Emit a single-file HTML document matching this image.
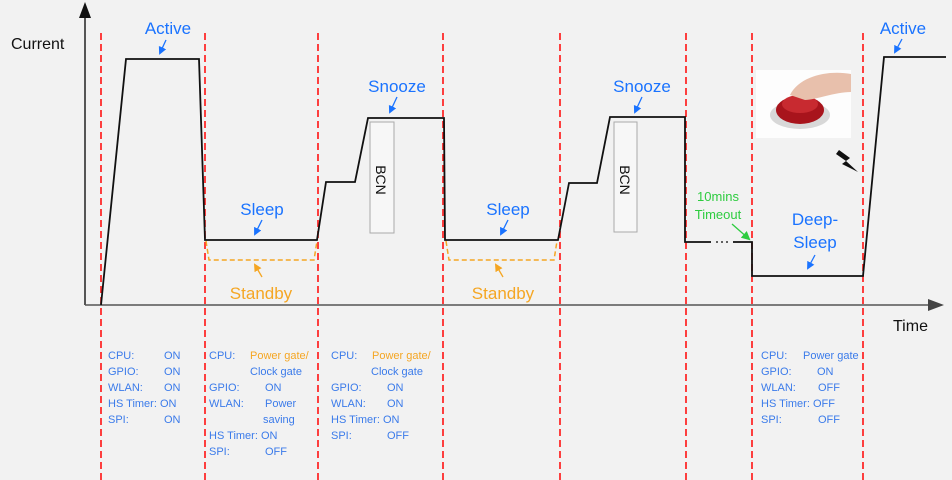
<!DOCTYPE html>
<html><head><meta charset="utf-8"><style>
html,body{margin:0;padding:0;background:#f2f2f2;}
svg{display:block;font-family:"Liberation Sans",sans-serif;}
.b{fill:#1a73ff;}
.t{fill:#3b7bea;font-size:11px;}
.o{fill:#f5a623;}
</style></head><body>
<svg width="952" height="480" viewBox="0 0 952 480" xmlns="http://www.w3.org/2000/svg">
<defs>
<marker id="ab" markerWidth="8" markerHeight="8" refX="6" refY="4" orient="auto" markerUnits="userSpaceOnUse"><path d="M0,0 L8,4 L0,8 z" fill="#1a73ff"/></marker>
<marker id="ao" markerWidth="8" markerHeight="8" refX="6" refY="4" orient="auto" markerUnits="userSpaceOnUse"><path d="M0,0 L8,4 L0,8 z" fill="#f5a623"/></marker>
<marker id="ag" markerWidth="9" markerHeight="9" refX="7" refY="4.5" orient="auto" markerUnits="userSpaceOnUse"><path d="M0,0 L9,4.5 L0,9 z" fill="#2ecc40"/></marker>
</defs>
<rect width="952" height="480" fill="#f2f2f2"/>
<g stroke="#ff2020" stroke-width="1.7" stroke-dasharray="7,4">
<line x1="101" y1="33" x2="101" y2="480"/>
<line x1="205" y1="33" x2="205" y2="480"/>
<line x1="318" y1="33" x2="318" y2="480"/>
<line x1="443" y1="33" x2="443" y2="480"/>
<line x1="560" y1="33" x2="560" y2="480"/>
<line x1="686" y1="33" x2="686" y2="480"/>
<line x1="752" y1="33" x2="752" y2="480"/>
<line x1="863" y1="33" x2="863" y2="480"/>
</g>
<line x1="85" y1="14" x2="85" y2="305" stroke="#222" stroke-width="1.5"/>
<path d="M79,18 L85,2 L91,18 z" fill="#111"/>
<line x1="85" y1="305" x2="930" y2="305" stroke="#555" stroke-width="1.5"/>
<path d="M928,299 L944,305 L928,311 z" fill="#444"/>
<text x="11" y="49" font-size="16" fill="#111">Current</text>
<text x="893" y="331" font-size="16" fill="#111">Time</text>
<g stroke="#f5a623" stroke-width="1.5" stroke-dasharray="5,3" fill="none">
<path d="M206,241 L209,260 L314,260 L317,241"/>
<path d="M446,241 L449,260 L554,260 L557,241"/>
</g>
<rect x="370" y="122" width="24" height="111" fill="#f7f7f7" stroke="#aaa"/>
<rect x="614" y="122" width="23" height="110" fill="#f7f7f7" stroke="#aaa"/>
<text transform="translate(376,180) rotate(90)" font-size="14" text-anchor="middle" fill="#111">BCN</text>
<text transform="translate(620,180) rotate(90)" font-size="14" text-anchor="middle" fill="#111">BCN</text>
<path d="M101,305 L126,59 L199,59 L205,240 L317,240 L326,182 L355,182 L368,118 L444,118 L445,240 L558,240 L569,183 L597,183 L610,117 L685,117 L685,242 L711,242" fill="none" stroke="#111" stroke-width="1.8"/>
<g fill="#333"><circle cx="717" cy="242" r="1"/><circle cx="722" cy="242" r="1"/><circle cx="727" cy="242" r="1"/></g>
<path d="M733,242 L752,242 L752,276 L863,276 L884,57 L946,57" fill="none" stroke="#111" stroke-width="1.8"/>
<text x="168" y="34" font-size="17" class="b" text-anchor="middle">Active</text>
<line x1="166" y1="40" x2="160" y2="53" stroke="#1a73ff" stroke-width="1.3" marker-end="url(#ab)"/>
<text x="903" y="34" font-size="17" class="b" text-anchor="middle">Active</text>
<line x1="902" y1="39" x2="895" y2="52" stroke="#1a73ff" stroke-width="1.3" marker-end="url(#ab)"/>
<text x="262" y="215" font-size="17" class="b" text-anchor="middle">Sleep</text>
<line x1="262" y1="220" x2="255" y2="234" stroke="#1a73ff" stroke-width="1.3" marker-end="url(#ab)"/>
<text x="508" y="215" font-size="17" class="b" text-anchor="middle">Sleep</text>
<line x1="508" y1="220" x2="501" y2="234" stroke="#1a73ff" stroke-width="1.3" marker-end="url(#ab)"/>
<text x="261" y="299" font-size="17" class="o" text-anchor="middle">Standby</text>
<line x1="262" y1="277" x2="255" y2="265" stroke="#f5a623" stroke-width="1.3" marker-end="url(#ao)"/>
<text x="503" y="299" font-size="17" class="o" text-anchor="middle">Standby</text>
<line x1="503" y1="277" x2="496" y2="265" stroke="#f5a623" stroke-width="1.3" marker-end="url(#ao)"/>
<text x="397" y="92" font-size="17" class="b" text-anchor="middle">Snooze</text>
<line x1="397" y1="97" x2="390" y2="112" stroke="#1a73ff" stroke-width="1.3" marker-end="url(#ab)"/>
<text x="642" y="92" font-size="17" class="b" text-anchor="middle">Snooze</text>
<line x1="642" y1="97" x2="635" y2="112" stroke="#1a73ff" stroke-width="1.3" marker-end="url(#ab)"/>
<text x="815" y="225" font-size="17" class="b" text-anchor="middle">Deep-</text>
<text x="815" y="248" font-size="17" class="b" text-anchor="middle">Sleep</text>
<line x1="815" y1="255" x2="808" y2="268" stroke="#1a73ff" stroke-width="1.3" marker-end="url(#ab)"/>
<text x="718" y="201" font-size="13" fill="#2ecc40" text-anchor="middle">10mins</text>
<text x="718" y="219" font-size="13" fill="#2ecc40" text-anchor="middle">Timeout</text>
<line x1="732" y1="224" x2="749" y2="239" stroke="#2ecc40" stroke-width="1.3" marker-end="url(#ag)"/>
<rect x="756" y="70" width="95" height="68" fill="#fdfdfd"/>
<ellipse cx="800" cy="115" rx="30" ry="14" fill="#d8d8d8"/>
<ellipse cx="800" cy="110" rx="24" ry="14" fill="#a8141c"/>
<ellipse cx="800" cy="104" rx="18" ry="9" fill="#c82a30"/>
<path d="M790,95 C800,75 830,70 851,74 L851,92 C835,92 815,100 805,100 Z" fill="#e8c0ac"/>
<path d="M839,150 L850,158 L846,161 L858,172 L842,164 L846,161 L836,154 Z" fill="#111"/>
<g class="t">
<text x="108" y="359">CPU:</text><text x="164" y="359">ON</text>
<text x="108" y="375">GPIO:</text><text x="164" y="375">ON</text>
<text x="108" y="391">WLAN:</text><text x="164" y="391">ON</text>
<text x="108" y="407">HS Timer: ON</text>
<text x="108" y="423">SPI:</text><text x="164" y="423">ON</text>

<text x="209" y="359">CPU:</text><text x="250" y="359" class="o" font-size="11">Power gate/</text>
<text x="250" y="375">Clock gate</text>
<text x="209" y="391">GPIO:</text><text x="265" y="391">ON</text>
<text x="209" y="407">WLAN:</text><text x="265" y="407">Power</text>
<text x="263" y="423">saving</text>
<text x="209" y="439">HS Timer: ON</text>
<text x="209" y="455">SPI:</text><text x="265" y="455">OFF</text>

<text x="331" y="359">CPU:</text><text x="372" y="359" class="o" font-size="11">Power gate/</text>
<text x="371" y="375">Clock gate</text>
<text x="331" y="391">GPIO:</text><text x="387" y="391">ON</text>
<text x="331" y="407">WLAN:</text><text x="387" y="407">ON</text>
<text x="331" y="423">HS Timer: ON</text>
<text x="331" y="439">SPI:</text><text x="387" y="439">OFF</text>

<text x="761" y="359">CPU:</text><text x="803" y="359">Power gate</text>
<text x="761" y="375">GPIO:</text><text x="817" y="375">ON</text>
<text x="761" y="391">WLAN:</text><text x="818" y="391">OFF</text>
<text x="761" y="407">HS Timer: OFF</text>
<text x="761" y="423">SPI:</text><text x="818" y="423">OFF</text>
</g>
</svg>
</body></html>
